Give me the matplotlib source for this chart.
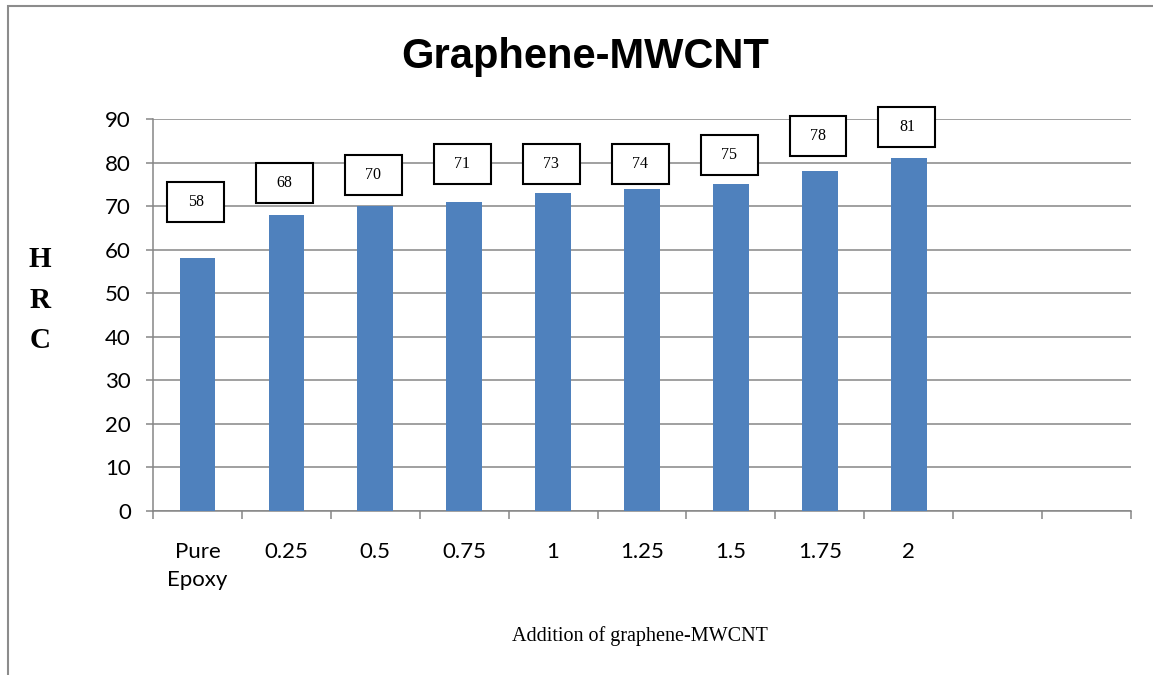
import numpy as np
import matplotlib.pyplot as plt
from matplotlib.patches import Rectangle

categories = ['Pure\nEpoxy', '0.25', '0.5', '0.75', '1', '1.25', '1.5', '1.75', '2']
hrc = [58, 68, 70, 71, 73, 74, 75, 78, 81]
# where the boxed value labels sit (data units, box centre)
label_y = [70.9, 75.3, 77.2, 79.7, 79.7, 79.7, 81.7, 86.1, 88.2]
n_slots = 11

blue = '#4F81BD'
grey = '#868686'

fig = plt.figure(figsize=(11.53, 6.75), dpi=100)
ax = fig.add_axes([153/1153, 1-511/675, (1131-153)/1153, (511-119)/675])

x = np.arange(len(hrc))
ax.bar(x, hrc, width=0.4, color=blue, zorder=3)

for xi, v, ly in zip(x, hrc, label_y):
	ax.add_patch(Rectangle((xi - 0.34, ly - 4.6), 0.64, 9.2, facecolor='white',
		edgecolor='black', lw=1.5, zorder=4, clip_on=False))
	ax.text(xi - 0.02, ly, str(v), ha='center', va='center', fontsize=11.5,
		family='Liberation Serif', zorder=5, clip_on=False)

ax.set_xlim(-0.5, n_slots - 0.5)
ax.set_ylim(0, 90)
ax.set_yticks(np.arange(0, 91, 10))
ax.yaxis.grid(True, color=grey, lw=1.1, zorder=0)
ax.set_axisbelow(True)

ax.set_xticks(np.arange(-0.5, n_slots, 1.0))
ax.set_xticklabels([])
ax.set_xticks(x, minor=True)
ax.set_xticklabels(categories, minor=True, fontsize=16, family='Lato', linespacing=1.55)
ax.tick_params(axis='x', which='major', direction='out', length=6, width=1.1, color=grey)
ax.tick_params(axis='x', which='minor', length=0, pad=22)
ax.tick_params(axis='y', direction='out', length=5, width=1.1, color=grey, pad=11, labelsize=16)
for lab in ax.get_yticklabels():
	lab.set_family('Lato')

for s in ['top', 'right']:
	ax.spines[s].set_visible(False)
for s in ['left', 'bottom']:
	ax.spines[s].set_color(grey)
	ax.spines[s].set_linewidth(1.1)

fig.text(585/1153, 1-57/675, 'Graphene-MWCNT', ha='center', va='center', fontsize=30,
	fontweight='bold', family=['Liberation Sans Narrow', 'Liberation Sans', 'DejaVu Sans'])
fig.text(40/1153, 1-300/675, 'H\nR\nC', ha='center', va='center', fontsize=21,
	fontweight='bold', family='Liberation Serif', linespacing=1.65)
fig.text(640/1153, 1-636/675, 'Addition of graphene-MWCNT', ha='center', va='center',
	fontsize=14.5, family='Liberation Serif')

fig.add_artist(Rectangle((8/1153, -0.1), 1.2, 1-6/675+0.1, transform=fig.transFigure,
	fill=False, edgecolor='#8C8C8C', lw=1.5, clip_on=False))

fig.savefig('out.png', dpi=100)
